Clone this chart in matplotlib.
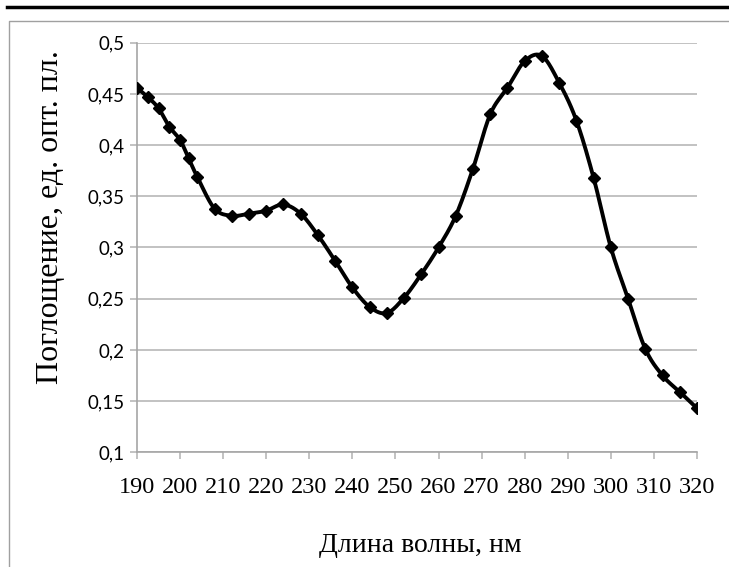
import numpy as np
import matplotlib
matplotlib.use('Agg')
import matplotlib.pyplot as plt
from matplotlib.lines import Line2D

# Wavelength (nm) and absorbance values
wavelength = [190, 192.5, 195, 197.5, 200, 202, 204,
              208, 212, 216, 220, 224, 228, 232, 236, 240, 244, 248, 252, 256,
              260, 264, 268, 272, 276, 280, 284, 288, 292, 296, 300, 304, 308,
              312, 316, 320]
absorbance = [0.456, 0.447, 0.436, 0.418, 0.405, 0.387, 0.369,
              0.338, 0.331, 0.333, 0.336, 0.342, 0.333, 0.312, 0.287, 0.261,
              0.242, 0.236, 0.251, 0.274, 0.300, 0.331, 0.377, 0.430, 0.456,
              0.482, 0.487, 0.461, 0.424, 0.368, 0.300, 0.250, 0.201, 0.175,
              0.159, 0.143]
x_ticks = list(range(190, 321, 10))
y_ticks = [0.1, 0.15, 0.2, 0.25, 0.3, 0.35, 0.4, 0.45, 0.5]
y_labels = ['0,1', '0,15', '0,2', '0,25', '0,3', '0,35', '0,4', '0,45', '0,5']


def smooth(xs, ys, n=20):
    # Catmull-Rom spline through the points (like Excel's smoothed line)
    xs = np.asarray(xs, float)
    ys = np.asarray(ys, float)
    px = np.concatenate([[xs[0]], xs, [xs[-1]]])
    py = np.concatenate([[ys[0]], ys, [ys[-1]]])
    out_x, out_y = [], []
    t = np.linspace(0, 1, n, endpoint=False)
    for i in range(1, len(px) - 2):
        for p, out in ((px, out_x), (py, out_y)):
            p0, p1, p2, p3 = p[i - 1], p[i], p[i + 1], p[i + 2]
            c1 = p1 + (p2 - p0) / 6
            c2 = p2 - (p3 - p1) / 6
            out.extend((1 - t) ** 3 * p1 + 3 * (1 - t) ** 2 * t * c1
                       + 3 * (1 - t) * t ** 2 * c2 + t ** 3 * p2)
    out_x.append(xs[-1])
    out_y.append(ys[-1])
    return out_x, out_y


fig = plt.figure(figsize=(7.29, 5.67), dpi=100)
ax = fig.add_axes([0.1879, 0.2023, 0.7682, 0.7224])

sx, sy = smooth(wavelength, absorbance)
ax.plot(sx, sy, color='black', linewidth=2.8, zorder=3)
ax.plot(wavelength, absorbance, linestyle='none', marker='D', markersize=6,
        color='black', zorder=4)

ax.set_xlim(190, 320)
ax.set_ylim(0.1, 0.5)
ax.set_xticks(x_ticks, labels=[str(v) for v in x_ticks])
ax.set_yticks(y_ticks, labels=y_labels)

grid_color = '#b8b8b8'
ax.grid(axis='y', color=grid_color, linewidth=1.2)
ax.set_axisbelow(True)
for s in ['top', 'right']:
    ax.spines[s].set_visible(False)
for s in ['left', 'bottom']:
    ax.spines[s].set_color('#a6a6a6')
    ax.spines[s].set_linewidth(1.2)

ax.tick_params(axis='y', direction='out', length=5, width=1.2, color=grid_color,
               pad=4, labelsize=13.5, labelfontfamily='Lato')
ax.tick_params(axis='x', direction='out', length=5, width=1.2, color=grid_color,
               pad=13, labelsize=17.5, labelfontfamily='Liberation Serif')

fig.text(420 / 729, 1 - 546 / 567, 'Длина волны, нм', ha='center', va='center',
         fontsize=20, family='Liberation Serif')
fig.text(51 / 729, 1 - 217 / 567, 'Поглощение, ед. опт. пл.', ha='center',
         va='center', rotation=90, fontsize=23, family='Liberation Serif')

# outer frame and thick top rule
fig.add_artist(Line2D([7 / 729, 1], [1 - 7 / 567, 1 - 7 / 567], color='black',
                      linewidth=2.5, transform=fig.transFigure))
fig.add_artist(Line2D([9 / 729, 9 / 729, 1], [0, 1 - 21 / 567, 1 - 21 / 567],
                      color='#a0a0a0', linewidth=1.0, transform=fig.transFigure))

plt.savefig('out.png', dpi=100)
